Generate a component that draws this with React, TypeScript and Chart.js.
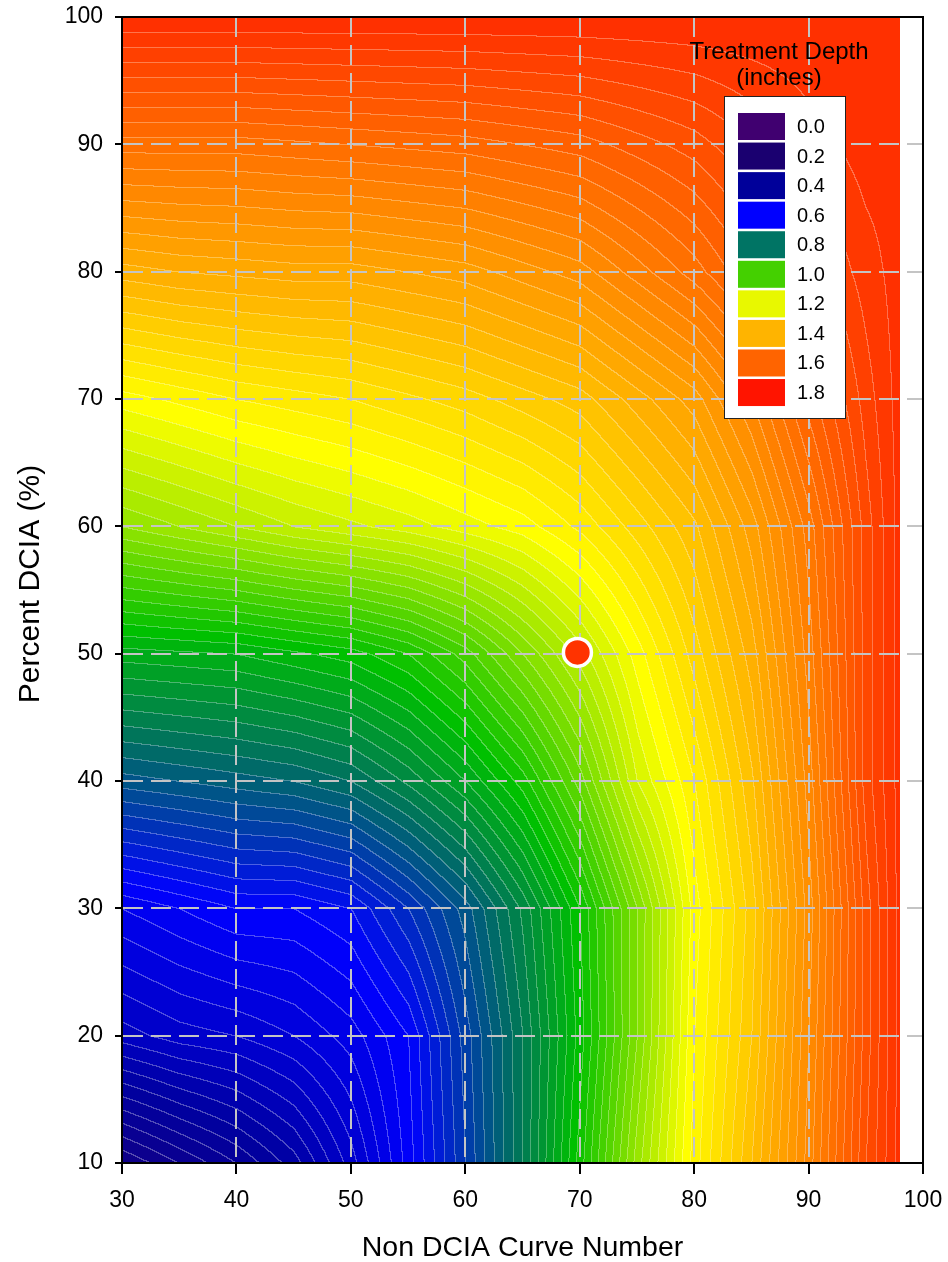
import React, { useEffect, useRef } from "react";
import { Chart, registerables } from "chart.js";

Chart.register(...registerables);

// ---------- data ----------
const cnValues = [30, 35, 40, 45, 50, 55, 60, 65, 70, 75, 80, 85, 90, 95, 98];
const dciaValues = [10, 20, 30, 40, 50, 60, 70, 80, 90, 100];

const depthAtDcia10 = [0.28, 0.32, 0.36, 0.41, 0.49, 0.59, 0.70, 0.82, 0.97, 1.13, 1.27, 1.38, 1.51, 1.66, 1.73];
const depthAtDcia20 = [0.47, 0.49, 0.50, 0.52, 0.55, 0.60, 0.71, 0.82, 0.95, 1.10, 1.26, 1.36, 1.50, 1.65, 1.73];
const depthAtDcia30 = [0.56, 0.58, 0.60, 0.60, 0.62, 0.68, 0.75, 0.845, 0.96, 1.10, 1.25, 1.35, 1.49, 1.65, 1.73];
const depthAtDcia40 = [0.75, 0.76, 0.77, 0.78, 0.80, 0.845, 0.90, 0.97, 1.07, 1.20, 1.28, 1.376, 1.51, 1.67, 1.73];
const depthAtDcia50 = [0.91, 0.915, 0.92, 0.935, 0.95, 0.98, 1.03, 1.10, 1.17, 1.25, 1.33, 1.41, 1.53, 1.67, 1.73];
const depthAtDcia60 = [1.12, 1.14, 1.16, 1.18, 1.195, 1.21, 1.23, 1.25, 1.285, 1.33, 1.376, 1.45, 1.55, 1.67, 1.73];
const depthAtDcia70 = [1.25, 1.265, 1.28, 1.29, 1.30, 1.315, 1.33, 1.35, 1.37, 1.41, 1.45, 1.52, 1.61, 1.69, 1.73];
const depthAtDcia80 = [1.41, 1.42, 1.425, 1.43, 1.43, 1.44, 1.45, 1.47, 1.49, 1.53, 1.57, 1.62, 1.67, 1.71, 1.73];
const depthAtDcia90 = [1.57, 1.57, 1.57, 1.575, 1.58, 1.585, 1.59, 1.60, 1.61, 1.63, 1.65, 1.68, 1.71, 1.73, 1.73];
const depthAtDcia100 = [1.74, 1.74, 1.74, 1.74, 1.74, 1.74, 1.74, 1.74, 1.74, 1.74, 1.74, 1.74, 1.74, 1.74, 1.74];

const siteCN = [69.8];
const siteDCIA = [50.1];

const xTickStep = 10;
const yTickStep = 10;
const contourStep = 0.02;

const xTitle = "Non DCIA Curve Number";
const yTitle = "Percent DCIA (%)";
const legendTitle = ["Treatment Depth", "(inches)"];
const legendLabels = ["0.0", "0.2", "0.4", "0.6", "0.8", "1.0", "1.2", "1.4", "1.6", "1.8"];
const legendColors = ["#400070", "#1a0070", "#00009a", "#0000ff", "#007464", "#44d000", "#e8f800", "#ffb400", "#ff6400", "#ff1400"];

// colour map used for filling the contour bands
const cmapLevels = [0.2, 0.4, 0.6, 0.8, 0.95, 1.25, 1.4, 1.6, 1.8];
const cmapColors = ["#1a0078", "#0000a0", "#0000ff", "#007060", "#00c000", "#ffff00", "#ffb400", "#ff6400", "#ff1400"];

const depthGrid = [
  depthAtDcia10, depthAtDcia20, depthAtDcia30, depthAtDcia40, depthAtDcia50,
  depthAtDcia60, depthAtDcia70, depthAtDcia80, depthAtDcia90, depthAtDcia100,
];

const FONT = "'Liberation Sans', Arial, Helvetica, sans-serif";

function hexToRgb(h: string): number[] {
  const n = parseInt(h.slice(1), 16);
  return [(n >> 16) & 255, (n >> 8) & 255, n & 255];
}
const cmapRgb = cmapColors.map(hexToRgb);

function colorFor(v: number): number[] {
  if (v <= cmapLevels[0]) return cmapRgb[0];
  const n = cmapLevels.length;
  if (v >= cmapLevels[n - 1]) return cmapRgb[n - 1];
  for (let i = 0; i < n - 1; i++) {
    if (v >= cmapLevels[i] && v <= cmapLevels[i + 1]) {
      const t = (v - cmapLevels[i]) / (cmapLevels[i + 1] - cmapLevels[i]);
      const a = cmapRgb[i], b = cmapRgb[i + 1];
      return [a[0] + (b[0] - a[0]) * t, a[1] + (b[1] - a[1]) * t, a[2] + (b[2] - a[2]) * t];
    }
  }
  return cmapRgb[n - 1];
}

function locate(arr: number[], v: number): [number, number] {
  const n = arr.length;
  if (v <= arr[0]) return [0, 0];
  if (v >= arr[n - 1]) return [n - 2, 1];
  for (let i = 0; i < n - 1; i++) {
    if (v >= arr[i] && v <= arr[i + 1]) return [i, (v - arr[i]) / (arr[i + 1] - arr[i])];
  }
  return [n - 2, 1];
}

const contourPlugin = {
  id: "contourFill",
  beforeDraw(chart: any) {
    const { ctx, chartArea, scales } = chart;
    const xs = scales.x, ys = scales.y;
    const x0 = Math.round(Math.max(chartArea.left, xs.getPixelForValue(cnValues[0])));
    const x1 = Math.round(xs.getPixelForValue(cnValues[cnValues.length - 1]));
    const y0 = Math.round(ys.getPixelForValue(dciaValues[dciaValues.length - 1]));
    const y1 = Math.round(ys.getPixelForValue(dciaValues[0]));
    const w = x1 - x0, h = y1 - y0;
    if (w <= 0 || h <= 0) return;
    const colI = new Int32Array(w), colT = new Float32Array(w);
    for (let c = 0; c < w; c++) {
      const [i, t] = locate(cnValues, xs.getValueForPixel(x0 + c + 0.5));
      colI[c] = i; colT[c] = t;
    }
    const rowJ = new Int32Array(h), rowT = new Float32Array(h);
    for (let r = 0; r < h; r++) {
      const [j, t] = locate(dciaValues, ys.getValueForPixel(y0 + r + 0.5));
      rowJ[r] = j; rowT[r] = t;
    }
    const band = new Int32Array(w * h);
    for (let r = 0; r < h; r++) {
      const j = rowJ[r], ty = rowT[r];
      const lo = depthGrid[j], hi = depthGrid[j + 1];
      for (let c = 0; c < w; c++) {
        const i = colI[c], tx = colT[c];
        const a = lo[i] + (lo[i + 1] - lo[i]) * tx;
        const b = hi[i] + (hi[i + 1] - hi[i]) * tx;
        const v = a + (b - a) * ty;
        band[r * w + c] = Math.floor(v / contourStep + 1e-6);
      }
    }
    const cache: Record<number, number[]> = {};
    const img = ctx.createImageData(w, h);
    const d = img.data;
    const lineAlpha = 0.3;
    for (let r = 0; r < h; r++) {
      for (let c = 0; c < w; c++) {
        const k = band[r * w + c];
        let col = cache[k];
        if (!col) { col = colorFor((k + 0.5) * contourStep); cache[k] = col; }
        let R = col[0], G = col[1], B = col[2];
        const isLine = (c > 0 && band[r * w + c - 1] !== k) || (r > 0 && band[(r - 1) * w + c] !== k);
        if (isLine) {
          R = R + (255 - R) * lineAlpha;
          G = G + (255 - G) * lineAlpha;
          B = B + (255 - B) * lineAlpha;
        }
        const p = (r * w + c) * 4;
        d[p] = R; d[p + 1] = G; d[p + 2] = B; d[p + 3] = 255;
      }
    }
    const off = document.createElement("canvas");
    off.width = w; off.height = h;
    (off.getContext("2d") as CanvasRenderingContext2D).putImageData(img, 0, 0);
    ctx.drawImage(off, x0, y0);
  },
  afterDraw(chart: any) {
    const { ctx, chartArea: a } = chart;
    ctx.save();
    // frame
    ctx.strokeStyle = "#000";
    ctx.lineWidth = 2;
    ctx.strokeRect(a.left, a.top, a.right - a.left, a.bottom - a.top);

    // y-axis title
    ctx.save();
    ctx.translate(a.left - 91, (a.top + a.bottom) / 2 - 6);
    ctx.rotate(-Math.PI / 2);
    ctx.fillStyle = "#000";
    ctx.font = `30px ${FONT}`;
    ctx.textAlign = "center";
    ctx.textBaseline = "middle";
    ctx.fillText(yTitle, 0, 0);
    ctx.restore();

    // legend
    const boxX = a.right - 198.5, boxY = a.top + 79.5, boxW = 121, boxH = 322;
    ctx.fillStyle = "#000";
    ctx.textAlign = "center";
    ctx.textBaseline = "middle";
    ctx.font = `24px ${FONT}`;
    const titleCx = a.right - 144;
    ctx.fillText(legendTitle[0], titleCx, a.top + 35);
    ctx.fillText(legendTitle[1], titleCx, a.top + 61.5);

    ctx.fillStyle = "#fff";
    ctx.fillRect(boxX, boxY, boxW, boxH);
    ctx.strokeStyle = "#222";
    ctx.lineWidth = 1;
    ctx.strokeRect(boxX, boxY, boxW, boxH);

    const pitch = 29.56;
    ctx.font = `20px ${FONT}`;
    ctx.textAlign = "left";
    for (let i = 0; i < legendLabels.length; i++) {
      const sy = a.top + 96 + i * pitch;
      ctx.fillStyle = legendColors[i];
      ctx.fillRect(a.right - 185, sy, 47, 27);
      ctx.fillStyle = "#000";
      ctx.fillText(legendLabels[i], a.right - 126, sy + 14.5);
    }
    ctx.restore();
  },
};

function zeroPadding(s: any) {
  s.paddingTop = 0;
  s.paddingBottom = 0;
  s.paddingLeft = 0;
  s.paddingRight = 0;
}

export default function App() {
  const canvasRef = useRef<HTMLCanvasElement | null>(null);

  useEffect(() => {
    const canvas = canvasRef.current;
    if (!canvas) return;
    Chart.defaults.font.family = FONT;
    const chart = new Chart(canvas, {
      type: "scatter",
      data: {
        datasets: [
          {
            label: "Site",
            data: siteCN.map((x, i) => ({ x, y: siteDCIA[i] })),
            pointRadius: 14,
            pointBorderWidth: 3.5,
            pointBorderColor: "#ffffff",
            pointBackgroundColor: "#ff3300",
            backgroundColor: "#ff3300",
            borderColor: "#ffffff",
          },
        ],
      },
      options: {
        responsive: false,
        animation: false,
        devicePixelRatio: 1,
        events: [],
        layout: { autoPadding: false, padding: { top: 17, right: 25, left: 0, bottom: 0 } },
        plugins: { legend: { display: false }, tooltip: { enabled: false } },
        scales: {
          x: {
            type: "linear",
            min: 30,
            max: 100,
            afterFit: (s: any) => { s.height = 99; zeroPadding(s); },
            ticks: { stepSize: xTickStep, color: "#000", font: { size: 23 }, padding: 13, maxRotation: 0 },
            grid: { color: "#c4c4c4", lineWidth: 2, tickColor: "#000", tickWidth: 2, tickLength: 11 },
            border: { display: true, color: "#000", width: 2, dash: [20, 8] },
            title: { display: true, text: xTitle, color: "#000", font: { size: 28.5, lineHeight: 1 }, padding: { top: 0, bottom: 0 } },
          },
          y: {
            type: "linear",
            min: 10,
            max: 100,
            afterFit: (s: any) => { s.width = 122; zeroPadding(s); },
            ticks: { stepSize: yTickStep, color: "#000", font: { size: 23 }, padding: 12 },
            grid: { color: "#c4c4c4", lineWidth: 2, tickColor: "#000", tickWidth: 2, tickLength: 7 },
            border: { display: true, color: "#000", width: 2, dash: [20, 8] },
            title: { display: false },
          },
        },
      },
      plugins: [contourPlugin],
    } as any);
    return () => chart.destroy();
  }, []);

  return (
    <div style={{ position: "fixed", left: 0, top: 0, width: 948, height: 1262, background: "#fff" }}>
      <canvas ref={canvasRef} width={948} height={1262} style={{ display: "block", width: 948, height: 1262 }} />
    </div>
  );
}
